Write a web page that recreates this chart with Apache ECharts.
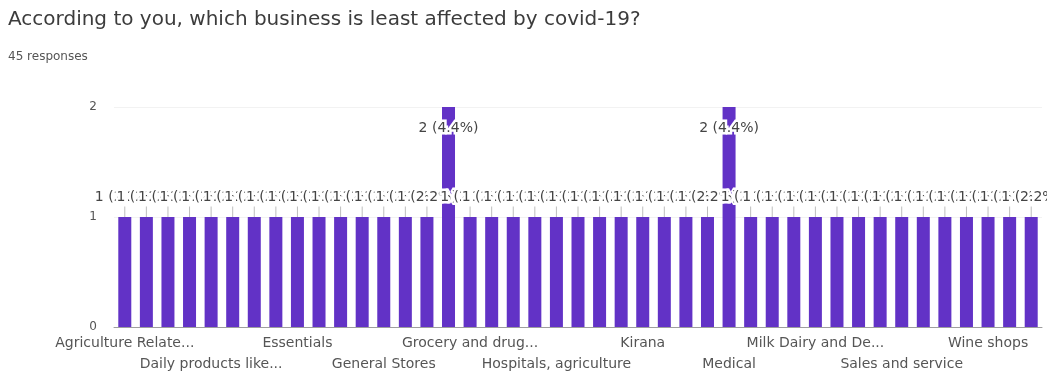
<!DOCTYPE html>
<html>
<head>
<meta charset="utf-8">
<script src="https://cdn.jsdelivr.net/npm/echarts@6/dist/echarts.min.js"></script>
<style>
  html, body { margin: 0; padding: 0; background: #fff; }
  #chart { width: 1047px; height: 374px; }
</style>
</head>
<body>
<div id="chart"></div>
<script>
// answers, in the order the form shows them (only every 4th name is readable)
const answers = [
  'Agriculture Relate...', 'Agro products', 'All essentials', 'Chemist',
  'Daily products like...', 'Dairy', 'Dairy products', 'E-commerce',
  'Essentials', 'Food', 'Food and grocery', 'Fruits and vegetables',
  'General Stores', 'Government jobs', 'Groceries', 'Grocery',
  'Grocery and drug...', 'Grocery stores', 'Health care', 'Hospital',
  'Hospitals, agriculture', 'IT sector', 'Internet services', 'Kirana stores',
  'Kirana', 'Liquor', 'Local shops', 'Medical stores',
  'Medical', 'Medical shops', 'Medicine', 'Milk',
  'Milk Dairy and De...', 'Online business', 'Pharmacy', 'Retail',
  'Sales and service', 'Supermarkets', 'Telecom', 'Vegetables',
  'Wine shops', 'Wholesale', 'Online education'
];
const counts = [
  1, 1, 1, 1, 1, 1, 1, 1, 1, 1, 1, 1, 1, 1, 1, 2,
  1, 1, 1, 1, 1, 1, 1, 1, 1, 1, 1, 1, 2, 1, 1, 1,
  1, 1, 1, 1, 1, 1, 1, 1, 1, 1, 1
];
const totalResponses = 45;
const yTicks = [0, 1, 2];

const chart = echarts.init(document.getElementById('chart'));

const pct = v => v + ' (' + (v / totalResponses * 100).toFixed(1) + '%)';
const font = 'DejaVu Sans';

// google staggers the axis names on two rows, every 4th name shown
function catAxis(row) {
  return {
    type: 'category',
    position: 'bottom',
    data: answers,
    axisTick: { show: false },
    axisLine: { show: row === 0, lineStyle: { color: '#9e9e9e' } },
    axisLabel: {
      interval: i => i % 8 === row * 4,
      hideOverlap: false,
      margin: row === 0 ? 9 : 30,
      fontFamily: font,
      fontSize: 14,
      color: '#555'
    }
  };
}

chart.setOption({
  animation: false,
  title: {
    text: 'According to you, which business is least affected by covid-19?',
    subtext: '45 responses',
    left: 3,
    top: 5,
    itemGap: 21,
    textStyle: { fontFamily: font, fontSize: 20, fontWeight: 'normal', color: '#3c3c3c' },
    subtextStyle: { fontFamily: font, fontSize: 12, color: '#555' }
  },
  grid: { left: 114, right: 5, top: 107, bottom: 47 },
  xAxis: [catAxis(0), catAxis(1)],
  yAxis: {
    type: 'value',
    min: yTicks[0],
    max: yTicks[yTicks.length - 1],
    interval: 1,
    axisLabel: { margin: 17, fontFamily: font, fontSize: 12, color: '#555' },
    splitLine: { lineStyle: { color: '#f2f2f2' } }
  },
  series: [{
    type: 'bar',
    barWidth: 13,
    itemStyle: { color: '#6232c6' },
    data: counts.map(v => v === 2 ? {
      value: v,
      label: { position: 'insideTop', distance: 14 }
    } : v),
    label: {
      show: true,
      position: 'top',
      distance: 5,
      formatter: p => pct(p.value),
      fontFamily: font,
      fontSize: 14,
      color: '#444',
      textBorderColor: '#fff',
      textBorderWidth: 5
    },
    labelLayout: p => counts[p.dataIndex] === 2 ? {} : { dy: -8 },
    labelLine: { show: true, length2: 0, lineStyle: { color: '#bdbdbd', width: 1 } }
  }]
});
</script>
</body>
</html>
